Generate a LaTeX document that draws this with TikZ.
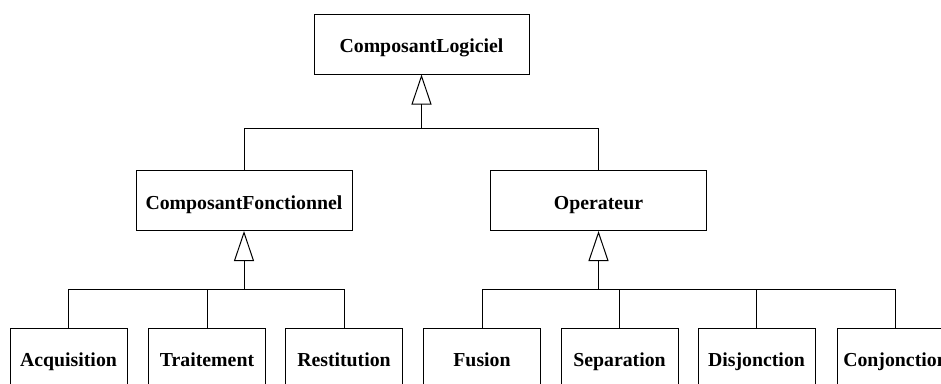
\documentclass[tikz,border=0pt]{standalone}
\usepackage{fontspec}
\setmainfont{Liberation Serif}
\usetikzlibrary{
  arrows.meta
}

\tikzset{
  classe/.style={draw,line width=1pt,minimum height=60pt,inner sep=0pt,
    text height=21pt,text depth=4pt,
    font=\fontsize{19.8}{21}\selectfont\bfseries},
  grande/.style={classe,minimum width=216pt},
  petite/.style={classe,minimum width=117pt},
  herite/.style={-{Triangle[open,length=30pt,width=20pt,line width=1pt]}}
}

\begin{document}
\begin{tikzpicture}[x=1pt,y=-1pt,line width=1pt]

\useasboundingbox (0,0) rectangle (941,383);
\clip (0,0) rectangle (941,383);

%--------------------
% Niveau 1
%--------------------
\node[grande,minimum width=215pt] (Logiciel) at (421.5,44) {ComposantLogiciel};

%--------------------
% Niveau 2
%--------------------
\node[grande] (Fonctionnel) at (244,200.5) {ComposantFonctionnel};
\node[grande] (Operateur) at (598.5,200.5) {Operateur};

% heritage vers ComposantLogiciel
\coordinate (J0) at (421.5,128);
\draw[herite] (J0) -- (Logiciel.south);
\draw (Fonctionnel.north) |- (J0);
\draw (Operateur.north) |- (J0);

%--------------------
% Niveau 3
%--------------------
\node[petite] (Acquisition) at (68.5,358) {Acquisition};
\node[petite] (Traitement) at (207,358) {Traitement};
\node[petite] (Restitution) at (344,358) {Restitution};

\node[petite] (Fusion) at (482,358) {Fusion};
\node[petite] (Separation) at (619.5,358) {Separation};
\node[petite] (Disjonction) at (756.5,358) {Disjonction};
\node[petite] (Conjonction) at (895.5,358) {Conjonction};

% heritage vers ComposantFonctionnel
\coordinate (J1) at (244,289);
\draw[herite] (J1) -- (Fonctionnel.south);
\foreach \n in {Acquisition,Traitement,Restitution}
  \draw (\n.north) |- (J1);

% heritage vers Operateur
\coordinate (J2) at (598.5,289);
\draw[herite] (J2) -- (Operateur.south);
\foreach \n in {Fusion,Separation,Disjonction,Conjonction}
  \draw (\n.north) |- (J2);

\end{tikzpicture}
\end{document}
